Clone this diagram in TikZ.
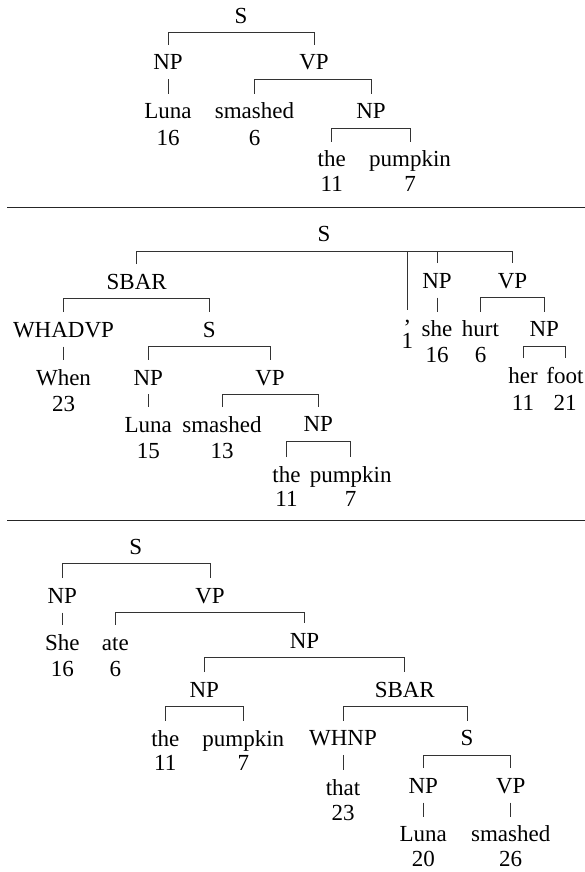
\documentclass[tikz,border=0pt]{standalone}
\usepackage{fontspec}
\setmainfont{Liberation Serif}
\begin{document}
\begin{tikzpicture}[x=1pt,y=-1pt,
  every node/.style={font=\fontsize{23pt}{27pt}\selectfont},
  lab/.style={anchor=base, inner xsep=0pt, inner ysep=9pt, text height=16pt, text depth=0pt},
  punct/.style={lab, text height=3.5pt},
  num/.style={anchor=base, inner sep=0pt},
  branch/.style={draw=black!80, line width=0.8pt},
  rule/.style={draw=black!85, line width=1.3pt}]
\useasboundingbox (0,0) rectangle (585,872);

% ---------- first tree ----------
\node[lab] (s1) at (241,23.3) {S};
\node[lab] (np1) at (168,70) {NP};
\node[lab] (vp1) at (314,70) {VP};
\node[lab] (luna1) at (168,119) {Luna};
\node[num] (luna1n) at (168,145) {16};
\node[lab] (smashed1) at (254.5,119) {smashed};
\node[num] (smashed1n) at (254.5,145) {6};
\node[lab] (np1b) at (371,119) {NP};
\node[lab] (the1) at (331.7,166.7) {the};
\node[num] (the1n) at (331.7,191.7) {11};
\node[lab] (pumpkin1) at (410,166.7) {pumpkin};
\node[num] (pumpkin1n) at (410,191.7) {7};

\draw[branch] (np1.north) |- (s1.south) -| (vp1.north);
\draw[branch] (np1.south) -- (luna1.north);
\draw[branch] (smashed1.north) |- (vp1.south) -| (np1b.north);
\draw[branch] (the1.north) |- (np1b.south) -| (pumpkin1.north);

% separator
\coordinate (rule1l) at (7,207.3);
\coordinate (rule1r) at (585,207.3);
\draw[rule] (rule1l) -- (rule1r);

% ---------- second tree ----------
\node[lab] (s2) at (324,241.7) {S};
\node[lab] (sbar2) at (136.7,289.3) {SBAR};
\node[punct] (comma2) at (407.4,322.5) {,};
\node[num] (comma2n) at (407.4,348.3) {1};
\node[lab] (np2r) at (437,288.3) {NP};
\node[lab] (vp2r) at (512.5,288.3) {VP};
\node[lab] (whadvp2) at (63.5,337.3) {WHADVP};
\node[lab] (s2i) at (209.3,337.3) {S};
\node[lab] (when2) at (63.5,385) {When};
\node[num] (when2n) at (63.5,411.7) {23};
\node[lab] (np2) at (148.3,385) {NP};
\node[lab] (vp2) at (270,385) {VP};
\node[lab] (luna2) at (148.3,432.3) {Luna};
\node[num] (luna2n) at (148.3,458.3) {15};
\node[lab] (smashed2) at (222,432.3) {smashed};
\node[num] (smashed2n) at (222,458.3) {13};
\node[lab] (np2i) at (318.3,431.7) {NP};
\node[lab] (the2) at (286.5,482.3) {the};
\node[num] (the2n) at (286.5,506) {11};
\node[lab] (pumpkin2) at (350.7,482.3) {pumpkin};
\node[num] (pumpkin2n) at (350.7,506) {7};
\node[lab] (she2) at (437,336.7) {she};
\node[num] (she2n) at (437,362.7) {16};
\node[lab] (hurt2) at (480.5,336.7) {hurt};
\node[num] (hurt2n) at (480.5,362.7) {6};
\node[lab] (np2rr) at (544.3,336.7) {NP};
\node[lab] (her2) at (523,383.3) {her};
\node[num] (her2n) at (523,410) {11};
\node[lab] (foot2) at (565,383.3) {foot};
\node[num] (foot2n) at (565,410) {21};

\draw[branch] (sbar2.north) |- (s2.south) -| (vp2r.north);
\draw[branch] (comma2.north) -- (comma2.north |- s2.south);
\draw[branch] (np2r.north) -- (np2r.north |- s2.south);
\draw[branch] (whadvp2.north) |- (sbar2.south) -| (s2i.north);
\draw[branch] (whadvp2.south) -- (when2.north);
\draw[branch] (np2.north) |- (s2i.south) -| (vp2.north);
\draw[branch] (np2.south) -- (luna2.north);
\draw[branch] (smashed2.north) |- (vp2.south) -| (np2i.north);
\draw[branch] (the2.north) |- (np2i.south) -| (pumpkin2.north);
\draw[branch] (np2r.south) -- (she2.north);
\draw[branch] (hurt2.north) |- (vp2r.south) -| (np2rr.north);
\draw[branch] (her2.north) |- (np2rr.south) -| (foot2.north);

% separator
\coordinate (rule2l) at (7,520.7);
\coordinate (rule2r) at (585,520.7);
\draw[rule] (rule2l) -- (rule2r);

% ---------- third tree ----------
\node[lab] (s3) at (135.7,554) {S};
\node[lab] (np3) at (62.3,603.3) {NP};
\node[lab] (vp3) at (210,603.3) {VP};
\node[lab] (she3) at (62.3,650) {She};
\node[num] (she3n) at (62.3,676) {16};
\node[lab] (ate3) at (115.3,650) {ate};
\node[num] (ate3n) at (115.3,676) {6};
\node[lab] (np3b) at (304.5,648.3) {NP};
\node[lab] (np3c) at (204.3,697.3) {NP};
\node[lab] (sbar3) at (404.8,697.3) {SBAR};
\node[lab] (the3) at (165.3,746) {the};
\node[num] (the3n) at (165.3,770.7) {11};
\node[lab] (pumpkin3) at (243.3,746) {pumpkin};
\node[num] (pumpkin3n) at (243.3,770.7) {7};
\node[lab] (whnp3) at (343,745.7) {WHNP};
\node[lab] (s3b) at (467,745.7) {S};
\node[lab] (that3) at (343,795) {that};
\node[num] (that3n) at (343,820) {23};
\node[lab] (np3d) at (423.3,793.3) {NP};
\node[lab] (vp3d) at (510.7,793.3) {VP};
\node[lab] (luna3) at (423.3,841.7) {Luna};
\node[num] (luna3n) at (423.3,866.7) {20};
\node[lab] (smashed3) at (510.7,841.7) {smashed};
\node[num] (smashed3n) at (510.7,866.7) {26};

\draw[branch] (np3.north) |- (s3.south) -| (vp3.north);
\draw[branch] (np3.south) -- (she3.north);
\draw[branch] (ate3.north) |- (vp3.south) -| (np3b.north);
\draw[branch] (np3c.north) |- (np3b.south) -| (sbar3.north);
\draw[branch] (the3.north) |- (np3c.south) -| (pumpkin3.north);
\draw[branch] (whnp3.north) |- (sbar3.south) -| (s3b.north);
\draw[branch] (whnp3.south) -- (that3.north);
\draw[branch] (np3d.north) |- (s3b.south) -| (vp3d.north);
\draw[branch] (np3d.south) -- (luna3.north);
\draw[branch] (vp3d.south) -- (smashed3.north);
\end{tikzpicture}
\end{document}
